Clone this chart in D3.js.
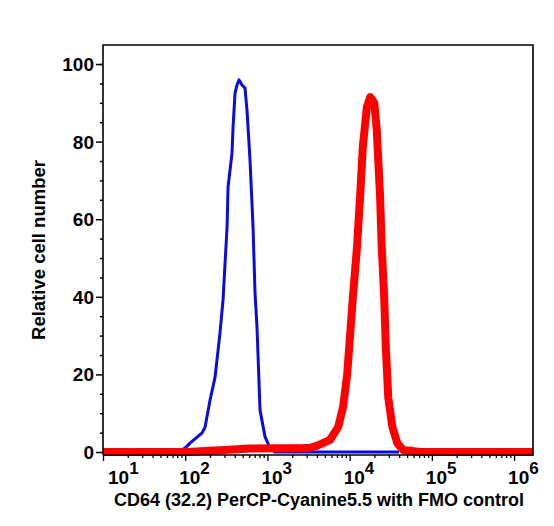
<!DOCTYPE html>
<html><head><meta charset="utf-8">
<script src="https://cdn.jsdelivr.net/npm/d3@7"></script>
<style>
html,body{margin:0;padding:0;background:#fff;}
text{font-family:"Liberation Sans",Arial,Helvetica,sans-serif;font-weight:bold;fill:#000;}
</style></head>
<body>
<svg id="chart" width="554" height="526"></svg>
<script>
// ---- data (log10 of fluorescence, relative cell number) ----
const fmoLog   = [1.90,1.998,2.058,2.204,2.241,2.302,2.363,2.423,2.460,2.509,2.521,2.569,2.582,2.606,2.630,2.655,2.691,2.727,2.752,2.788,2.825,2.849,2.873,2.910,2.971,3.032,3.09,4.6];
const fmoVal   = [0,1.0,2.3,4.9,6.4,13.4,19.3,30.7,39.2,58,68.3,77,83.8,92.5,94.6,95.9,94.6,93.8,88,75.3,58,41,32.2,10.8,3.9,1.0,0,0];
const cd64Log  = [1.0,2.03,2.30,2.48,2.79,3.15,3.40,3.52,3.60,3.76,3.86,3.92,3.97,4.00,4.04,4.09,4.13,4.16,4.21,4.25,4.30,4.33,4.37,4.39,4.42,4.44,4.47,4.52,4.58,4.65,4.86,6.23];
const cd64Val  = [0,0,0.3,0.5,0.9,1.0,1.0,1.1,1.6,3.1,6.4,11.6,20,28.6,40,53,66.8,78.6,89,91.5,90,83,66,53,40,27,14,6.4,2.3,0.5,0,0];
const yTicks   = [0,20,40,60,80,100];
const yMinor   = [5,10,15,25,30,35,45,50,55,65,70,75,85,90,95,100];
const xExps    = [1,2,3,4,5,6];
const xTitle   = "CD64 (32.2) PerCP-Cyanine5.5 with FMO control";
const yTitle   = "Relative cell number";

const svg = d3.select("#chart");
const L = 103, R = 533, T = 45, B = 455;

const x = d3.scaleLog().domain([10, Math.pow(10, 6.23)]).range([L, R]);
const y = d3.scaleLinear().domain([-0.77, 104.9]).range([B, T]);

// curves
const line = d3.line().x(d => x(Math.pow(10, d[0]))).y(d => y(d[1]));
const fmo = fmoLog.map((v, i) => [v, fmoVal[i]]);
const cd64 = cd64Log.map((v, i) => [v, cd64Val[i]]);

svg.append("path").datum(fmo).attr("d", line)
  .attr("fill", "none").attr("stroke", "#0b0bdf").attr("stroke-width", 3)
  .attr("stroke-linejoin", "round");
svg.append("path").datum(cd64).attr("d", line)
  .attr("fill", "none").attr("stroke", "#ff0000").attr("stroke-width", 8)
  .attr("stroke-linejoin", "round");

// frame
svg.append("path")
  .attr("d", `M${L},${B}V${T}H${R}V${B}H${L}`)
  .attr("fill", "none").attr("stroke", "#000").attr("stroke-width", 1.6);

// y axis
const yMajor = d3.axisLeft(y).tickValues(yTicks).tickSize(7).tickFormat("");
const yMin = d3.axisLeft(y).tickValues(yMinor).tickSize(3).tickFormat("");
const gy = svg.append("g").attr("transform", `translate(${L},0)`).call(yMajor);
const gy2 = svg.append("g").attr("transform", `translate(${L},0)`).call(yMin);
[gy, gy2].forEach(g => { g.select(".domain").remove(); g.selectAll("line").attr("stroke", "#000").attr("stroke-width", 1.5); });
yTicks.forEach(v => {
  svg.append("text").attr("x", L - 9).attr("y", y(v) + 7)
    .attr("text-anchor", "end").attr("font-size", 19).text(v);
});

// x axis
const xMajorVals = xExps.map(e => Math.pow(10, e));
const xMinorVals = [];
for (let e = 1; e < 7; e++) for (let m = 2; m <= 9; m++) { const v = m * Math.pow(10, e); if (v <= x.domain()[1]) xMinorVals.push(v); }
const gx = svg.append("g").attr("transform", `translate(0,${B})`)
  .call(d3.axisBottom(x).tickValues(xMajorVals).tickSize(6).tickFormat(""));
const gx2 = svg.append("g").attr("transform", `translate(0,${B})`)
  .call(d3.axisBottom(x).tickValues(xMinorVals).tickSize(3).tickFormat(""));
[gx, gx2].forEach(g => { g.select(".domain").remove(); g.selectAll("line").attr("stroke", "#000").attr("stroke-width", 1.3); });

xExps.forEach((e, i) => {
  const px = Math.max(x(Math.pow(10, e)) - 6, L + 5);
  const t = svg.append("text").attr("x", px).attr("y", 484).attr("font-size", 19);
  t.append("tspan").text("10");
  t.append("tspan").attr("dy", -10).attr("font-size", 17).text(e);
});

// titles
svg.append("text").attr("x", (L + R) / 2 + 1).attr("y", 506)
  .attr("text-anchor", "middle").attr("font-size", 18).text(xTitle);
svg.append("text").attr("transform", `translate(45,${(T + B) / 2}) rotate(-90)`)
  .attr("text-anchor", "middle").attr("font-size", 18.5).text(yTitle);
</script>
</body></html>
